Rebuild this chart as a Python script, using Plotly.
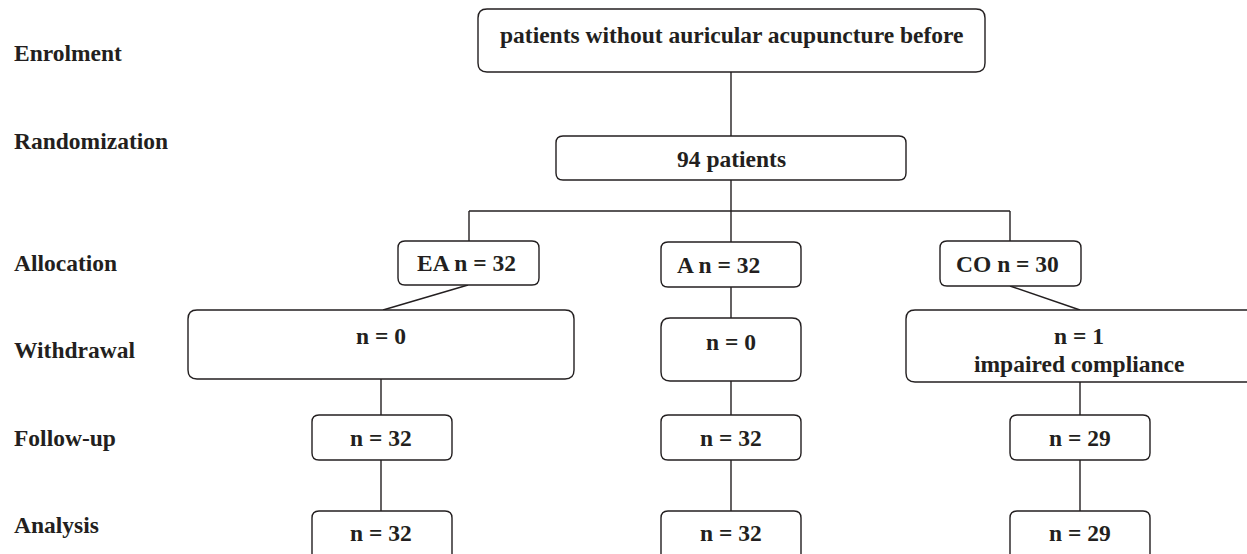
import plotly.graph_objects as go

# ---------------- data ----------------
stage_labels = ["Enrolment", "Randomization", "Allocation", "Withdrawal", "Follow-up", "Analysis"]
enrolment_text = "patients without auricular acupuncture before"
total_randomized = 94
groups = ["EA", "A", "CO"]
allocated = [32, 32, 30]
withdrawn = [0, 0, 1]
withdrawal_reason = ["", "", "impaired compliance"]
followed_up = [32, 32, 29]
analysed = [32, 32, 29]

# ---------------- geometry (pixel layout) ----------------
W, H = 1247, 554
INK = "#231f20"
FONT = dict(family="Liberation Serif, Times New Roman, serif", size=23.5, color=INK)
LW = 1.4

stage_y = [53, 141, 263, 350, 438, 525]

top_box = (478, 985, 9, 72, 731, 35)
rand_box = (556, 906, 136, 180, 731, 159)
alloc_boxes = [(398, 539, 241, 285, 466, 263),
               (661, 801, 242, 287, 718, 265),
               (940, 1081, 241, 286, 1007, 264)]
withdraw_boxes = [(188, 574, 310, 379, 381, 336),
                  (661, 801, 318, 381, 731, 342),
                  (906, 1265, 310, 382, 1079, 336)]
follow_boxes = [(312, 452, 415, 460, 381, 438),
                (661, 801, 415, 460, 731, 438),
                (1010, 1150, 415, 460, 1080, 438)]
analysis_boxes = [(312, 452, 511, 570, 381, 533),
                  (661, 801, 511, 570, 731, 533),
                  (1010, 1150, 511, 570, 1080, 533)]

shapes = []
annotations = []


def rbox(x0, x1, y0, y1, r=7):
    path = (f"M {x0+r},{y0} L {x1-r},{y0} Q {x1},{y0} {x1},{y0+r} "
            f"L {x1},{y1-r} Q {x1},{y1} {x1-r},{y1} L {x0+r},{y1} "
            f"Q {x0},{y1} {x0},{y1-r} L {x0},{y0+r} Q {x0},{y0} {x0+r},{y0} Z")
    shapes.append(dict(type="path", path=path, xref="x", yref="y",
                       line=dict(color=INK, width=LW), fillcolor="white", layer="above"))


def seg(x0, y0, x1, y1):
    shapes.append(dict(type="line", x0=x0, y0=y0, x1=x1, y1=y1, xref="x", yref="y",
                       line=dict(color=INK, width=LW), layer="below"))


def txt(x, y, s, anchor="center"):
    annotations.append(dict(x=x, y=y, xref="x", yref="y", text=f"<b>{s}</b>",
                            showarrow=False, font=FONT, xanchor=anchor, yanchor="middle"))


# stage labels
for lab, y in zip(stage_labels, stage_y):
    txt(12, y, lab, anchor="left")

# connectors
seg(731, 72, 731, 136)
seg(731, 180, 731, 211)
seg(469, 211, 1010, 211)
seg(469, 211, 469, 241)
seg(731, 211, 731, 242)
seg(1010, 211, 1010, 241)
seg(468, 285, 383, 310)
seg(731, 287, 731, 318)
seg(1010, 286, 1080, 310)
for i, xc in enumerate([381, 731, 1080]):
    seg(xc, withdraw_boxes[i][3], xc, 415)
    seg(xc, 460, xc, 511)

# boxes
rbox(*top_box[:4], r=9)
txt(top_box[4], top_box[5], enrolment_text)
rbox(*rand_box[:4])
txt(rand_box[4], rand_box[5], f"{total_randomized} patients")

for i, g in enumerate(groups):
    b = alloc_boxes[i]
    rbox(*b[:4])
    txt(b[4], b[5], f"{g} n = {allocated[i]}")

    b = withdraw_boxes[i]
    rbox(*b[:4], r=9)
    txt(b[4], b[5], f"n = {withdrawn[i]}")
    if withdrawal_reason[i]:
        txt(b[4], b[5] + 28, withdrawal_reason[i])

    b = follow_boxes[i]
    rbox(*b[:4])
    txt(b[4], b[5], f"n = {followed_up[i]}")

    b = analysis_boxes[i]
    rbox(*b[:4])
    txt(b[4], b[5], f"n = {analysed[i]}")

fig = go.Figure()
fig.update_layout(
    width=W, height=H,
    margin=dict(l=0, r=0, t=0, b=0),
    paper_bgcolor="white", plot_bgcolor="white",
    xaxis=dict(range=[0, W], visible=False, fixedrange=True),
    yaxis=dict(range=[H, 0], visible=False, fixedrange=True),
    shapes=shapes, annotations=annotations,
    showlegend=False,
)
fig.write_html("out.html", config={"displayModeBar": False},
               post_script="document.body.style.margin='0';document.body.style.overflow='hidden';")
